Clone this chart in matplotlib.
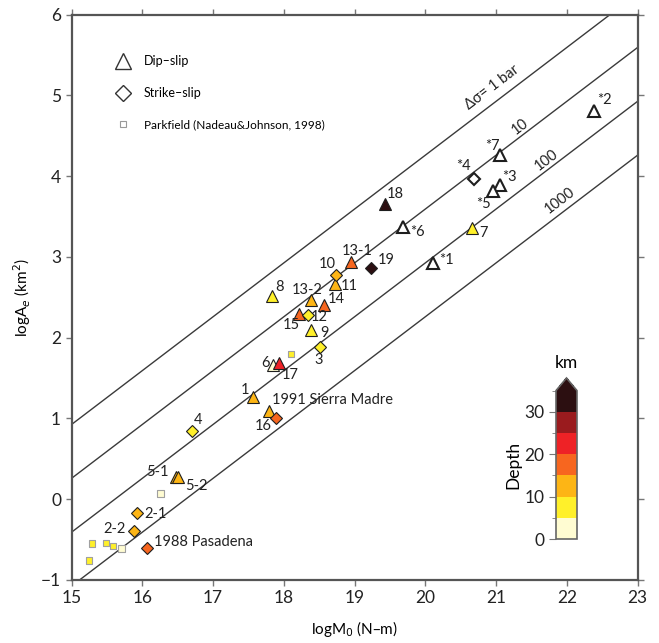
import numpy as np
import matplotlib
matplotlib.use("Agg")
import matplotlib.pyplot as plt
from matplotlib.colors import ListedColormap, BoundaryNorm
from matplotlib.lines import Line2D
from matplotlib.cm import ScalarMappable

plt.rcParams['font.family'] = ['Lato', 'DejaVu Sans']

# dip-slip events (triangles); nan depth -> no depth, open symbol
dip_names = ['*2', '*7', '*3', '*5', '*6', '*1', '18', '7', '13-1', '11', '8',
             '13-2', '14', '15', '9', '6', '17', '1', '1991 Sierra Madre', '5-1', '5-2']
dip_m0 = [22.38, 21.06, 21.06, 20.96, 19.68, 20.11, 19.43, 20.66, 18.95, 18.73, 17.84,
          18.38, 18.57, 18.22, 18.38, 17.85, 17.93, 17.57, 17.79, 16.48, 16.51]
dip_area = [4.80, 4.26, 3.89, 3.82, 3.37, 2.92, 3.66, 3.36, 2.94, 2.66, 2.51,
            2.47, 2.40, 2.29, 2.09, 1.66, 1.69, 1.27, 1.09, 0.28, 0.27]
dip_depth = [np.nan, np.nan, np.nan, np.nan, np.nan, np.nan, 33, 8, 17, 12, 8,
             12, 17, 17, 8, 3, 22, 12, 12, 12, 12]

# strike-slip events (diamonds)
ss_names = ['*4', '19', '10', '12', '3', '16', '4', '2-1', '2-2', '1988 Pasadena']
ss_m0 = [20.69, 19.24, 18.74, 18.34, 18.51, 17.89, 16.70, 15.92, 15.89, 16.07]
ss_area = [3.96, 2.86, 2.77, 2.28, 1.88, 1.00, 0.85, -0.17, -0.39, -0.60]
ss_depth = [np.nan, 33, 12, 8, 8, 18, 8, 12, 12, 17]

# Parkfield repeating events (Nadeau & Johnson, 1998)
park_m0 = [18.10, 16.26, 15.29, 15.49, 15.59, 15.71, 15.25]
park_area = [1.80, 0.07, -0.55, -0.54, -0.58, -0.61, -0.76]
park_depth = [8, 3, 8, 8, 8, 3, 8]

# constant stress drop lines (bar)
stress_bars = [1, 10, 100, 1000]
stress_labels = ['\u0394\u03c3= 1 bar', '10', '100', '1000']

depth_bounds = [0, 5, 10, 15, 20, 25, 30, 35]
depth_colors = ['#FFFCD2', '#FFF02A', '#FDB515', '#F7661F', '#EE2226', '#9A1B1E', '#2C0F11']

# label offsets in pixels (dx, dy, ha)
label_off = {
    '*2': (11, 11, 'center'), '*7': (-8, 9, 'center'), '*3': (9, 8, 'center'),
    '*5': (-10, -13, 'center'), '*6': (15, -5, 'center'), '*1': (13, 3, 'center'),
    '18': (10, 10, 'center'), '7': (12, -5, 'center'), '13-1': (6, 11, 'center'),
    '11': (14, -2, 'center'), '8': (7, 9, 'center'), '13-2': (-3, 10, 'center'),
    '14': (12, 6, 'center'), '15': (-8, -11, 'center'), '9': (14, -3, 'center'),
    '6': (-8, 2, 'center'), '17': (11, -12, 'center'), '1': (-8, 7, 'center'),
    '1991 Sierra Madre': (3, 11, 'left'), '5-1': (-19, 5, 'center'),
    '5-2': (18, -9, 'center'), '*4': (-11, 13, 'center'), '19': (15, 8, 'center'),
    '10': (-9, 11, 'center'), '12': (11, -2, 'center'), '3': (-1, -13, 'center'),
    '16': (-13, -8, 'center'), '4': (6, 11, 'center'), '2-1': (19, -1, 'center'),
    '2-2': (-20, 2, 'center'), '1988 Pasadena': (7, 6, 'left'),
}

cmap = ListedColormap(depth_colors)
cmap.set_over(depth_colors[-1])
norm = BoundaryNorm(depth_bounds, cmap.N)

W, H = 659, 643
fig = plt.figure(figsize=(W / 100, H / 100), dpi=100)
ax = fig.add_axes([71.5 / W, (H - 580) / H, 566 / W, 565.5 / H])

ax.set_xlim(15, 23)
ax.set_ylim(-1, 6)

# stress drop lines: circular crack, M0 = 16/7 dsigma r^3, A = pi r^2
xs = np.linspace(15, 23, 200)
label_x = [20.95, 21.34, 21.72, 21.90]
label_dy = [0.20, 0.13, 0.13, 0.17]
for bar, lab, lx, ldy in zip(stress_bars, stress_labels, label_x, label_dy):
    c = -2 / 3 * np.log10(16 / 7 * bar * 1e5) + np.log10(np.pi) - 6
    ax.plot(xs, 2 / 3 * xs + c, color='#3a3a3a', lw=1.0, zorder=1)
    ang = np.degrees(np.arctan(2 / 3))
    ax.text(lx, 2 / 3 * lx + c + ldy, lab, fontsize=10.5, color='#222222',
            rotation=ang, transform_rotates_text=True, rotation_mode='anchor',
            ha='center', va='center')


def face(d):
    return 'white' if np.isnan(d) else cmap(norm(d))


ax.scatter(park_m0, park_area, marker='s', s=22, c=[face(d) for d in park_depth],
           edgecolors='#a0a0a0', linewidths=0.8, zorder=2)

for names, m0, area, depth, mk, ms in [
        (dip_names, dip_m0, dip_area, dip_depth, '^', 8.5),
        (ss_names, ss_m0, ss_area, ss_depth, 'D', 6.6)]:
    for n, x, y, d in zip(names, m0, area, depth):
        open_sym = np.isnan(d)
        ax.plot(x, y, marker=mk, ms=ms, ls='none', mfc=face(d), mec='#1e1e1e',
                mew=1.5 if open_sym else 0.8, zorder=3)
        dx, dy, ha = label_off[n]
        ax.annotate(n, (x, y), xytext=(dx, dy), textcoords='offset pixels',
                    ha=ha, va='center', fontsize=10.5, color='#222222', zorder=4)

ax.set_xticks(range(15, 24))
ax.set_yticks(range(-1, 7))
ax.set_yticklabels(['\u22121'] + [str(v) for v in range(0, 7)])
ax.tick_params(direction='out', length=4, width=1, color='#777777',
               labelsize=12.5, top=True, right=True, labelcolor='#222222')
for sp in ax.spines.values():
    sp.set_color('#555555')
    sp.set_linewidth(1.6)

ax.set_xlabel('logM$_0$ (N\u2013m)', fontsize=11, labelpad=9)
ax.set_ylabel('logA$_e$ (km$^2$)', fontsize=11, labelpad=6)

handles = [
    Line2D([], [], marker='^', ls='none', ms=12, mfc='white', mec='#333333', mew=1),
    Line2D([], [], marker='D', ls='none', ms=8.5, mfc='white', mec='#333333', mew=1),
    Line2D([], [], marker='s', ls='none', ms=5, mfc='white', mec='#999999', mew=0.8),
]
leg = ax.legend(handles, ['Dip\u2013slip', 'Strike\u2013slip', 'Parkfield (Nadeau&Johnson, 1998)'],
                loc='upper left', bbox_to_anchor=(0.055, 0.948), frameon=False,
                fontsize=9, labelspacing=1.6, handletextpad=0.9, handlelength=1.5)
leg.get_texts()[2].set_fontsize(8.5)

# depth colour bar
cax = fig.add_axes([556 / W, (H - 539) / H, 21 / W, 161 / H])
cb = fig.colorbar(ScalarMappable(norm=norm, cmap=cmap), cax=cax, extend='max',
                  extendfrac=0.085, ticks=[0, 10, 20, 30])
cb.ax.set_yticks([5, 15, 25, 35], minor=True)
cb.ax.yaxis.set_ticks_position('left')
cb.ax.yaxis.set_label_position('left')
cb.ax.tick_params(which='major', length=5, color='#777777', labelsize=12.5, labelcolor='#222222')
cb.ax.tick_params(which='minor', length=3, color='#777777')
cb.outline.set_edgecolor('#666666')
cb.outline.set_linewidth(1.2)
cb.set_label('Depth', fontsize=12.5, labelpad=2)
cb.ax.set_title('km', fontsize=12.5, pad=16)

fig.savefig('out.png', dpi=100)
